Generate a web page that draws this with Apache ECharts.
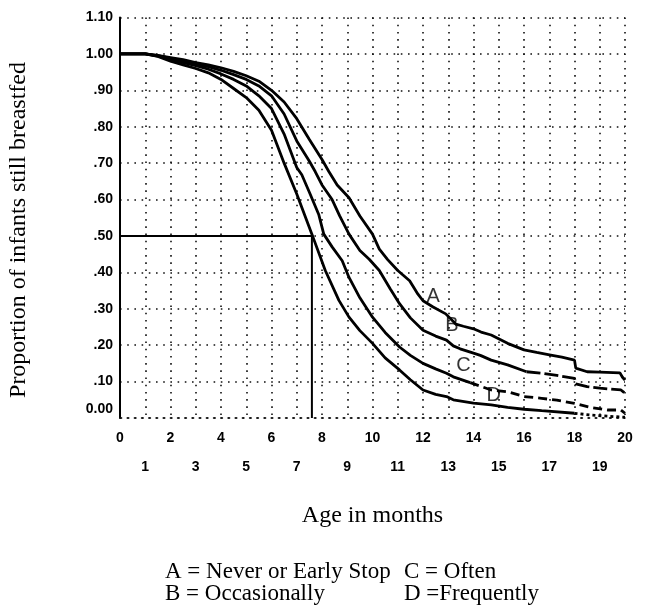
<!DOCTYPE html>
<html><head><meta charset="utf-8">
<script src="https://cdn.jsdelivr.net/npm/echarts@6/dist/echarts.min.js"></script>
<style>html,body{margin:0;padding:0;background:#fff}#c{width:647px;height:614px}</style>
</head><body><div id="c"></div>
<script>
// ---- data ----
const monthsA = [0,1,1.5,2,2.5,3,3.5,4,4.5,5,5.5,6,6.5,7,7.5,8,8.27,8.6,9.07,9.5,10,10.27,10.6,11,11.47,11.8,12,12.4,12.9,13.3,13.6,14,14.3,14.7,15.35,16,16.5,17.06,17.5,18,18.05,18.5,19,19.8,19.9,20];
const propA   = [1,1,.996,.99,.984,.976,.97,.962,.952,.94,.925,.9,.868,.822,.765,.71,.677,.64,.605,.555,.505,.464,.435,.405,.377,.34,.322,.305,.286,.258,.252,.245,.236,.228,.205,.187,.18,.173,.167,.159,.137,.127,.126,.124,.112,.104];
const monthsB = [0,1,1.5,2,2.5,3,3.5,4,4.5,5,5.5,6,6.5,7,7.5,7.73,8,8.4,8.7,9.07,9.5,9.87,10.27,10.7,11.07,11.5,12,12.5,12.93,13.2,13.47,14,14.27,14.7,15.35,16.1,16.7,17.3,18,18.05,18.5,19,19.84,20];
const propB   = [1,1,.995,.988,.98,.972,.965,.955,.943,.93,.912,.885,.835,.761,.705,.677,.64,.6,.555,.505,.46,.436,.405,.355,.314,.275,.241,.225,.214,.198,.19,.178,.172,.159,.146,.127,.123,.117,.109,.094,.086,.082,.077,.068];
const monthsC = [0,1,1.5,2,2.5,3,3.5,4,4.5,5,5.5,6,6.5,7,7.2,7.5,7.87,8.07,8.4,8.8,9.07,9.5,10,10.5,11.07,11.5,12,12.5,12.93,13.2,13.87,14.7,15.35,16,16.7,17.3,18,18.65,19.3,19.84,20];
const propC   = [1,1,.994,.985,.976,.968,.958,.945,.93,.912,.885,.85,.78,.688,.668,.62,.559,.505,.47,.432,.386,.33,.277,.235,.195,.172,.15,.135,.123,.113,.097,.077,.072,.059,.054,.049,.04,.029,.022,.022,.013];
const monthsD = [0,1,1.5,2,2.5,3,3.5,4,4.5,5,5.5,6,6.5,7,7.6,8.13,8.67,9.07,9.5,10,10.5,11.07,11.5,12,12.5,12.93,13.2,14,14.7,15.35,16,16.7,18,18.65,20];
const propD   = [1,1,.993,.98,.97,.96,.948,.93,.905,.88,.845,.79,.7,.615,.505,.405,.323,.277,.24,.205,.165,.132,.105,.077,.065,.059,.05,.041,.036,.029,.024,.02,.013,.008,.002];
// where each curve turns broken (scan shows dashed tails)
const dashFromB = 16.1, dashFromC = 13.87, dashFromD = 18;
// median reference lines
const refMonths = [0, 7.6, 7.6];
const refProps  = [0.5, 0.5, 0];
// curve letters
const letterNames  = ['A','B','C','D'];
const letterMonths = [12.4, 13.15, 13.6, 14.8];
const letterProps  = [0.335, 0.253, 0.143, 0.063];
// tick values
const xTicks = [0,1,2,3,4,5,6,7,8,9,10,11,12,13,14,15,16,17,18,19,20];
const yTicks = [0,.1,.2,.3,.4,.5,.6,.7,.8,.9,1,1.1];
const legendLines = [['A = Never or Early Stop','C = Often'],['B = Occasionally','D =Frequently']];
const yTitle = 'Proportion of infants still breastfed';

function pairs(xs, ys){ return xs.map((x,i)=>[x, ys[i]]); }
function split(xs, ys, from){
  const all = pairs(xs, ys);
  const k = xs.findIndex(x => x >= from);
  return [all.slice(0, k+1), all.slice(k)];
}
const serif = 'Liberation Serif, Times New Roman, serif';
const sans = 'Liberation Sans, Arial, sans-serif';
const lineBase = {type:'line', symbol:'none', silent:true, animation:false};
const solid = {color:'#000', width:2.8};

const [bS, bD] = split(monthsB, propB, dashFromB);
const [cS, cD] = split(monthsC, propC, dashFromC);
const [dS, dD] = split(monthsD, propD, dashFromD);

const dot = {color:'#111', width:1.6, type:[1.6,5.6]};

const chart = echarts.init(document.getElementById('c'), null, {renderer:'canvas'});
chart.setOption({
  animation:false,
  backgroundColor:'#fff',
  grid:{left:120, right:22, top:17.5, bottom:196, containLabel:false},
  xAxis:{
    type:'value', min:xTicks[0], max:xTicks[xTicks.length-1], interval:1,
    name:'Age in months', nameLocation:'middle', nameGap:86,
    nameTextStyle:{fontFamily:serif, fontSize:24, color:'#000'},
    axisLine:{show:true, lineStyle:dot},
    axisTick:{show:false},
    splitLine:{show:true, lineStyle:dot},
    axisLabel:{
      interval:0, margin:13, color:'#000', fontFamily:sans, fontWeight:'bold', fontSize:14,
      formatter: v => (Math.round(v)%2===0 ? '{e|'+Math.round(v)+'}' : '{o|'+Math.round(v)+'}'),
      rich:{
        e:{fontFamily:sans, fontWeight:'bold', fontSize:14, color:'#000'},
        o:{fontFamily:sans, fontWeight:'bold', fontSize:14, color:'#000', padding:[29,0,0,0]}
      }
    }
  },
  yAxis:{
    type:'value', min:yTicks[0], max:yTicks[yTicks.length-1], interval:0.1,
    axisLine:{show:true, lineStyle:{color:'#000', width:2}},
    axisTick:{show:false},
    splitLine:{show:true, lineStyle:dot},
    axisLabel:{
      margin:7, color:'#000', fontFamily:sans, fontWeight:'bold', fontSize:14,
      formatter: v => {
        if (v < 0.001) return '{z|0.00}';
        const s = v.toFixed(2);
        return v >= 0.999 ? s : s.substring(1);
      },
      rich:{ z:{fontFamily:sans, fontWeight:'bold', fontSize:14, color:'#000', padding:[0,0,18,0]} }
    }
  },
  series:[
    Object.assign({}, lineBase, {name:'ref', data:pairs(refMonths, refProps), lineStyle:{color:'#000', width:2}, z:3}),
    Object.assign({}, lineBase, {name:'A', data:pairs(monthsA, propA), lineStyle:solid}),
    Object.assign({}, lineBase, {name:'B', data:bS, lineStyle:solid}),
    Object.assign({}, lineBase, {name:'B tail', data:bD, lineStyle:{color:'#000', width:2.8, type:[14,4]}}),
    Object.assign({}, lineBase, {name:'C', data:cS, lineStyle:solid}),
    Object.assign({}, lineBase, {name:'C tail', data:cD, lineStyle:{color:'#000', width:2.8, type:[9,5]}}),
    Object.assign({}, lineBase, {name:'D', data:dS, lineStyle:solid}),
    Object.assign({}, lineBase, {name:'D tail', data:dD, lineStyle:{color:'#000', width:2.8, type:[3,3]}}),
    {type:'scatter', silent:true, symbolSize:0, animation:false,
     data: letterNames.map((n,i)=>({value:[letterMonths[i], letterProps[i]], name:n})),
     label:{show:true, position:'inside', formatter: p => p.name, color:'#000', fontFamily:sans, fontSize:20}}
  ],
  graphic: [
    {type:'text', x:19, y:230, rotation:Math.PI/2,
     style:{text:yTitle, font:'24px ' + serif, fill:'#000', align:'center', verticalAlign:'middle'}}
  ].concat(legendLines.flatMap((row, r) => row.map((t, c) => ({
    type:'text', left: c===0 ? 165 : 404, top: 560 + r*22.5,
    style:{text:t, font:'23px ' + serif, fill:'#000'}
  }))))
});
</script>
</body></html>
